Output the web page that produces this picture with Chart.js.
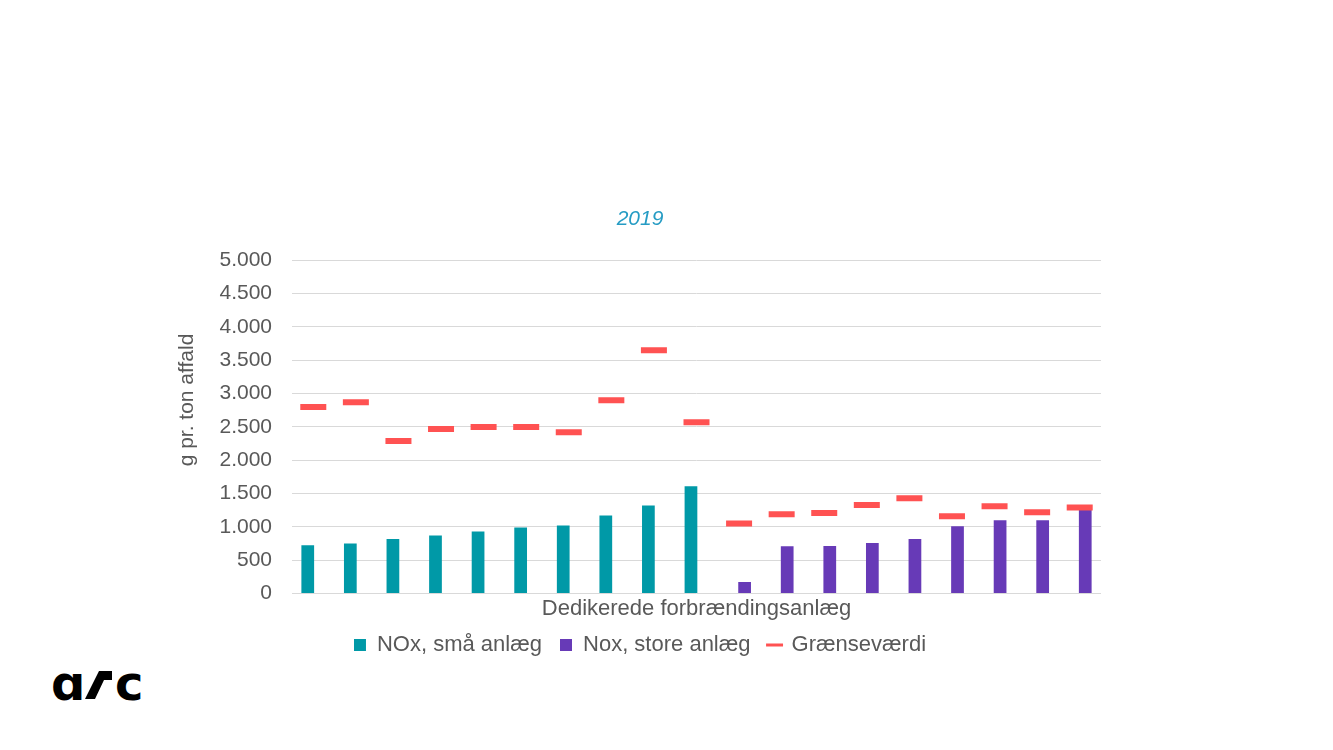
<!DOCTYPE html>
<html>
<head>
<meta charset="utf-8">
<script src="https://cdn.jsdelivr.net/npm/chart.js@4/dist/chart.umd.min.js"></script>
<style>
  html, body { margin: 0; padding: 0; background: #ffffff; width: 1333px; height: 750px; overflow: hidden; }
  #wrap { position: absolute; left: 170px; top: 195px; width: 940px; height: 471px; }
  #logo { position: absolute; left: 50px; top: 659px; height: 50px; width: 110px; font-family: "DejaVu Sans", sans-serif; font-weight: bold; color: #000; }
  #logo .a { position: absolute; left: 1px; top: 0px; font-size: 48px; line-height: 48px; }
  #logo .c { position: absolute; left: 65px; top: 0px; font-size: 48px; line-height: 48px; }
  #logo .r { position: absolute; left: 35px; top: 12px; width: 27px; height: 28px; background: #000;
             clip-path: polygon(0px 28px, 10px 28px, 19px 9px, 27px 9px, 27px 0px, 14px 0px); }
</style>
</head>
<body>
<div id="wrap"><canvas id="c" width="940" height="471"></canvas></div>
<div id="logo"><span class="a">ɑ</span><span class="r"></span><span class="c">c</span></div>
<script>
const categories = ['Anlæg 1','Anlæg 2','Anlæg 3','Anlæg 4','Anlæg 5','Anlæg 6','Anlæg 7','Anlæg 8','Anlæg 9','Anlæg 10',
                    'Anlæg 11','Anlæg 12','Anlæg 13','Anlæg 14','Anlæg 15','Anlæg 16','Anlæg 17','Anlæg 18','Anlæg 19'];
const noxSmaa  = [725, 750, 820, 870, 930, 990, 1020, 1170, 1320, 1610, null, null, null, null, null, null, null, null, null];
const noxStore = [null, null, null, null, null, null, null, null, null, null, 175, 710, 715, 760, 820, 1010, 1100, 1100, 1260];
const graense  = [2800, 2870, 2290, 2470, 2500, 2500, 2420, 2900, 3650, 2570, 1050, 1190, 1210, 1330, 1430, 1160, 1310, 1220, 1290];
const seriesNames = ['NOx, små anlæg', 'Nox, store anlæg', 'Grænseværdi'];
const chartTitle = '2019';
const xTitle = 'Dedikerede forbrændingsanlæg';
const yTitle = 'g pr. ton affald';

const FONT = '"Liberation Sans", Arial, sans-serif';
const TXT = '#595959';

function fmtDa(v) {
  return String(Math.round(v)).replace(/\B(?=(\d{3})+(?!\d))/g, '.');
}

const yTitlePlugin = {
  id: 'yTitlePlugin',
  afterDraw(chart) {
    const ctx = chart.ctx;
    ctx.save();
    ctx.translate(17, 205);
    ctx.rotate(-Math.PI / 2);
    ctx.font = '21px ' + FONT;
    ctx.fillStyle = TXT;
    ctx.textAlign = 'center';
    ctx.textBaseline = 'middle';
    ctx.fillText(yTitle, 0, 0);
    ctx.restore();
  }
};

new Chart(document.getElementById('c'), {
  data: {
    labels: categories,
    datasets: [
      { type: 'bar', label: seriesNames[0], data: noxSmaa, backgroundColor: '#0099A7', order: 1,
        pointStyle: 'rect', categoryPercentage: 0.52, barPercentage: 1.15 },
      { type: 'bar', label: seriesNames[1], data: noxStore, backgroundColor: '#673AB7', order: 2,
        pointStyle: 'rect', categoryPercentage: 0.52, barPercentage: 1.15 },
      { type: 'line', label: seriesNames[2], data: graense, showLine: false, order: 0,
        borderColor: '#FF5252', backgroundColor: '#FF5252',
        pointStyle: 'line', pointRadius: 13, pointHoverRadius: 13,
        pointBorderColor: '#FF5252', pointBorderWidth: 6, pointHoverBorderWidth: 6 }
    ]
  },
  options: {
    responsive: false,
    animation: false,
    layout: { autoPadding: false, padding: { top: 0, right: 9, bottom: 0, left: 9 } },
    plugins: {
      tooltip: { enabled: false },
      title: {
        display: true, text: chartTitle, color: '#269CC4',
        font: { family: FONT, size: 21, style: 'italic', weight: 'normal', lineHeight: 1.2 },
        padding: { top: 12, bottom: 28 }
      },
      legend: {
        position: 'bottom',
        labels: {
          usePointStyle: true, boxWidth: 12, boxHeight: 12, padding: 18,
          color: TXT, font: { family: FONT, size: 22 },
          sort: (a, b) => a.datasetIndex - b.datasetIndex,
          generateLabels(chart) {
            const items = Chart.defaults.plugins.legend.labels.generateLabels(chart);
            items.forEach(it => { if (it.pointStyle === 'line') { it.lineWidth = 3; } });
            return items;
          }
        }
      }
    },
    scales: {
      x: {
        afterFit(scale) { scale.paddingLeft = 0; scale.paddingRight = 0; },
        grid: { display: false, drawTicks: false },
        border: { display: false },
        ticks: { display: false },
        title: { display: true, text: xTitle, color: TXT, font: { family: FONT, size: 22, lineHeight: 1.2 },
                 padding: { top: 2, bottom: -6 } }
      },
      y: {
        min: 0, max: 5000,
        afterFit(scale) { scale.width = 113; },
        grid: { color: '#D9D9D9', lineWidth: 1, drawTicks: false },
        border: { display: false },
        ticks: { stepSize: 500, padding: 20, color: TXT, font: { family: FONT, size: 21 },
                 callback: (v) => fmtDa(v) }
      }
    }
  },
  plugins: [yTitlePlugin]
});
</script>
</body>
</html>
